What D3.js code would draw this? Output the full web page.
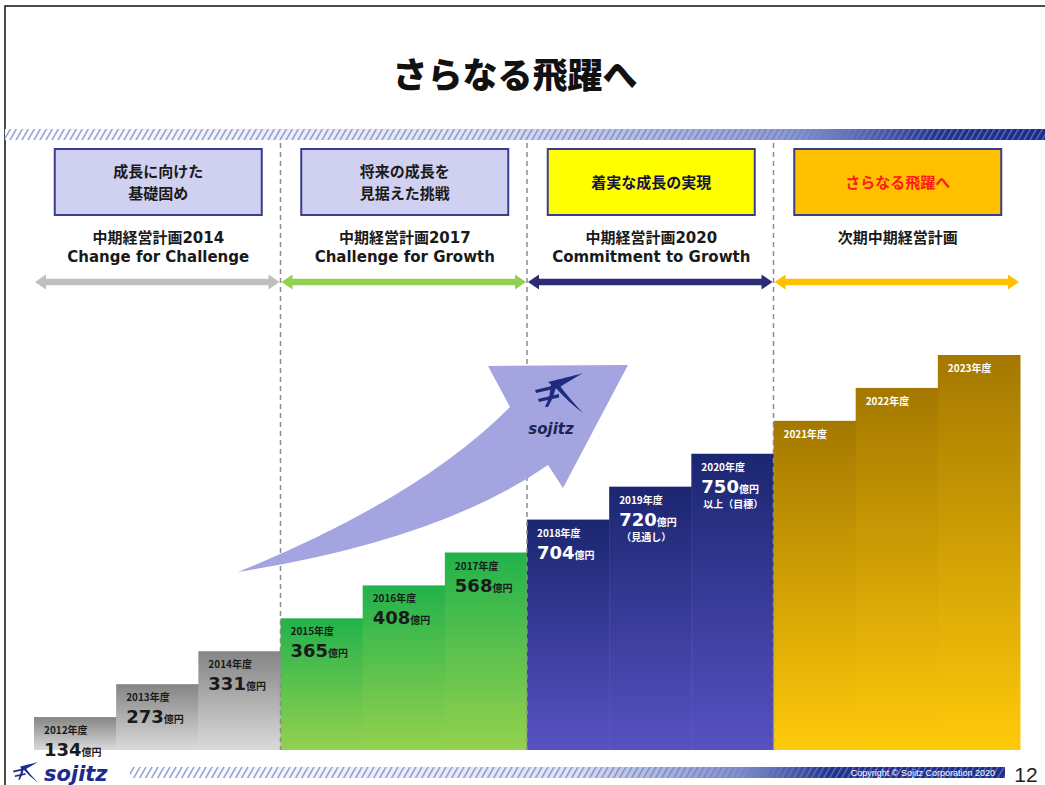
<!DOCTYPE html>
<html>
<head>
<meta charset="utf-8">
<script src="https://cdn.jsdelivr.net/npm/d3@7"></script>
<style>
  body { margin: 0; background: #fff; }
  svg { display: block; }
</style>
</head>
<body>
<div id="chart"></div>
<script>
// data
var years = ["2012", "2013", "2014", "2015", "2016", "2017", "2018", "2019", "2020", "2021", "2022", "2023"];
var values = [134, 273, 331, 365, 408, 568, 704, 720, 750, null, null, null];
var notes = ["", "", "", "", "", "", "", "（見通し）", "以上（目標）", "", "", ""];
var phaseStart = ["2012", "2015", "2018", "2021"];
var phaseTitles = [["成長に向けた", "基礎固め"], ["将来の成長を", "見据えた挑戦"], ["着実な成長の実現"], ["さらなる飛躍へ"]];
var planNames = [["中期経営計画2014", "Change for Challenge"], ["中期経営計画2017", "Challenge for Growth"],
                 ["中期経営計画2020", "Commitment to Growth"], ["次期中期経営計画"]];
var chartTitle = "さらなる飛躍へ";
var copyright = "Copyright © Sojitz Corporation 2020";
var pageNo = "12";

// styles per phase
var barTop = ["#858585", "#22b24c", "#1b2670", "#a47800"];
var barBottom = ["#dadada", "#94d14e", "#5751c2", "#ffca0a"];
var arrowColor = ["#bfbfbf", "#92d050", "#2b2b78", "#ffc000"];
var boxFill = ["#d0d0f0", "#d0d0f0", "#ffff00", "#ffc000"];
var boxText = ["#1a1a1a", "#1a1a1a", "#151540", "#ff1a1a"];
var labelColor = ["#1a1a1a", "#1a1a1a", "#ffffff", "#ffffff"];

var W = 1045, H = 785;
var cjk = "'Noto Sans CJK JP', sans-serif";
var latin = "'DejaVu Sans', 'Noto Sans CJK JP', sans-serif";

var svg = d3.select("#chart").append("svg")
    .attr("width", W)
    .attr("height", H);
var defs = svg.append("defs");

// scales
var x = d3.scaleBand()
    .domain(years)
    .range([34, 1020])
    .padding(0);
var y = d3.scaleLinear()
    .domain([0, years.length])
    .range([750, 355]);

function phaseOf(year) {
    var p = 0;
    phaseStart.forEach(function(s, i) { if (+year >= +s) p = i; });
    return p;
}
function phaseX0(p) { return x(phaseStart[p]); }
function phaseX1(p) { return p + 1 < phaseStart.length ? x(phaseStart[p + 1]) : x.range()[1]; }

// page frame
svg.append("rect")
    .attr("x", 5).attr("y", 6)
    .attr("width", W).attr("height", H)
    .attr("fill", "none")
    .attr("stroke", "#111")
    .attr("stroke-width", 1.5);

// title
svg.append("text")
    .attr("x", 515).attr("y", 88)
    .attr("text-anchor", "middle")
    .attr("font-family", cjk)
    .attr("font-weight", 900)
    .attr("font-size", 35)
    .attr("fill", "#111")
    .text(chartTitle);

// hatched stripes
defs.append("pattern")
    .attr("id", "hatch")
    .attr("patternUnits", "userSpaceOnUse")
    .attr("width", 6).attr("height", 12)
    .attr("patternTransform", "skewX(-30)")
    .append("rect")
    .attr("width", 1.6).attr("height", 12)
    .attr("fill", "#6f7cc0");

function stripeGradient(id, stops) {
    var g = defs.append("linearGradient").attr("id", id)
        .attr("x1", 0).attr("x2", 1).attr("y1", 0).attr("y2", 0);
    stops.forEach(function(s) {
        g.append("stop").attr("offset", s[0]).attr("stop-color", s[1]);
    });
}
stripeGradient("stripeTop", [[0, "#ffffff"], [0.45, "#dfe3f3"], [0.75, "#8e9bd3"], [0.9, "#22338f"], [1, "#1c2c8a"]]);
stripeGradient("stripeBottom", [[0, "#ffffff"], [0.5, "#dfe3f3"], [0.7, "#7f8dcc"], [0.8, "#22338f"], [1, "#1c2c8a"]]);

function stripe(x0, y0, w, h, grad) {
    svg.append("rect").attr("x", x0).attr("y", y0).attr("width", w).attr("height", h)
        .attr("fill", "url(#" + grad + ")");
    svg.append("rect").attr("x", x0).attr("y", y0).attr("width", w).attr("height", h)
        .attr("fill", "url(#hatch)").attr("opacity", 0.8);
}
stripe(5, 129, W - 5, 11, "stripeTop");
stripe(130, 767, 875, 11, "stripeBottom");

// bar gradients
phaseStart.forEach(function(s, p) {
    var g = defs.append("linearGradient").attr("id", "bar" + p)
        .attr("x1", 0).attr("x2", 0).attr("y1", 0).attr("y2", 1);
    g.append("stop").attr("offset", 0).attr("stop-color", barTop[p]);
    g.append("stop").attr("offset", 1).attr("stop-color", barBottom[p]);
});

// bars
svg.append("g").selectAll("rect")
    .data(years)
    .enter().append("rect")
    .attr("x", function(d) { return x(d); })
    .attr("y", function(d, i) { return y(i + 1); })
    .attr("width", x.bandwidth() + 0.5)
    .attr("height", function(d, i) { return y(0) - y(i + 1); })
    .attr("fill", function(d) { return "url(#bar" + phaseOf(d) + ")"; });

// dashed phase dividers
svg.append("g").selectAll("line")
    .data(phaseStart.slice(1))
    .enter().append("line")
    .attr("x1", function(d) { return x(d); })
    .attr("x2", function(d) { return x(d); })
    .attr("y1", 143).attr("y2", y(0))
    .attr("stroke", "#8c8c8c")
    .attr("stroke-width", 1.5)
    .attr("stroke-dasharray", "5,4");

// phase boxes
var boxW = 207, boxH = 66;
var box = svg.append("g").selectAll("g")
    .data(phaseTitles)
    .enter().append("g")
    .attr("transform", function(d, p) {
        return "translate(" + ((phaseX0(p) + phaseX1(p)) / 2 + 1) + ",182)";
    });
box.append("rect")
    .attr("x", -boxW / 2).attr("y", -boxH / 2)
    .attr("width", boxW).attr("height", boxH)
    .attr("fill", function(d, p) { return boxFill[p]; })
    .attr("stroke", "#3c3c8e")
    .attr("stroke-width", 2);
box.selectAll("text")
    .data(function(d, p) { return d.map(function(t, j) { return { t: t, j: j, n: d.length, p: p }; }); })
    .enter().append("text")
    .attr("text-anchor", "middle")
    .attr("y", function(d) { return (d.j - (d.n - 1) / 2) * 22 + 5.5; })
    .attr("font-family", cjk)
    .attr("font-weight", 700)
    .attr("font-size", 15)
    .attr("fill", function(d) { return boxText[d.p]; })
    .text(function(d) { return d.t; });

// plan names
var plan = svg.append("g").selectAll("g")
    .data(planNames)
    .enter().append("g")
    .attr("transform", function(d, p) {
        return "translate(" + ((phaseX0(p) + phaseX1(p)) / 2 + 1) + ",0)";
    });
plan.selectAll("text")
    .data(function(d) { return d; })
    .enter().append("text")
    .attr("text-anchor", "middle")
    .attr("y", function(d, j) { return 243 + j * 19; })
    .attr("font-family", latin)
    .attr("font-weight", 700)
    .attr("font-size", 15)
    .attr("fill", "#1a1a1a")
    .text(function(d) { return d; });

// double-headed arrows
function dblArrow(x0, x1, cy) {
    var hl = 11, hh = 7.5, sh = 3.2;
    return "M" + x0 + "," + cy +
        "L" + (x0 + hl) + "," + (cy - hh) + "L" + (x0 + hl) + "," + (cy - sh) +
        "L" + (x1 - hl) + "," + (cy - sh) + "L" + (x1 - hl) + "," + (cy - hh) +
        "L" + x1 + "," + cy +
        "L" + (x1 - hl) + "," + (cy + hh) + "L" + (x1 - hl) + "," + (cy + sh) +
        "L" + (x0 + hl) + "," + (cy + sh) + "L" + (x0 + hl) + "," + (cy + hh) + "Z";
}
svg.append("g").selectAll("path")
    .data(phaseStart)
    .enter().append("path")
    .attr("d", function(d, p) { return dblArrow(phaseX0(p) + 1, phaseX1(p) - 1, 282); })
    .attr("fill", function(d, p) { return arrowColor[p]; });

// big growth arrow
svg.append("path")
    .attr("d", "M238,572 Q420,498 510,407 L488,366 L628,365 L563,488 L548,465 Q440,540 238,572 Z")
    .attr("fill", "#a4a4e0");

// sojitz logo mark (48 x 40 units)
function logo(g, tx, ty, s, color) {
    var m = g.append("g").attr("transform", "translate(" + tx + "," + ty + ") scale(" + s + ")")
        .attr("fill", color);
    m.append("path").attr("d", "M48,0 C38,3 24,6 13,9 L22,16 C30,10 40,5 48,0 Z");
    m.append("path").attr("d", "M16,9 Q16,22 10,34 L13,34 Q20,22 21,12 Z");
    m.append("path").attr("d", "M20,14 Q32,28 48,40 Q34,25 25,13 Z");
    m.append("path").attr("d", "M0,17 L21,12 L21,15.5 L1,20 Z");
    m.append("path").attr("d", "M3,26 L24,21 L24,24.5 L4,29 Z");
}
logo(svg, 535, 373, 1, "#1d2c7c");
svg.append("text")
    .attr("x", 551).attr("y", 434)
    .attr("text-anchor", "middle")
    .attr("font-family", latin)
    .attr("font-weight", 700)
    .attr("font-style", "italic")
    .attr("font-size", 15)
    .attr("fill", "#1d2558")
    .text("sojitz");

// bar labels
var lab = svg.append("g").selectAll("g")
    .data(years)
    .enter().append("g")
    .attr("transform", function(d, i) { return "translate(" + (x(d) + 10) + "," + y(i + 1) + ")"; })
    .attr("fill", function(d) { return labelColor[phaseOf(d)]; })
    .attr("font-weight", 700);
lab.append("text")
    .attr("y", 17)
    .attr("font-family", cjk)
    .attr("font-size", 10)
    .text(function(d) { return d + "年度"; });
var val = lab.filter(function(d, i) { return values[i] != null; })
    .append("text")
    .attr("y", 39);
val.append("tspan")
    .attr("font-family", latin)
    .attr("font-size", 18)
    .text(function(d) { return values[years.indexOf(d)]; });
val.append("tspan")
    .attr("font-family", cjk)
    .attr("font-size", 10)
    .text("億円");
lab.filter(function(d, i) { return notes[i] !== ""; })
    .append("text")
    .attr("x", 2)
    .attr("y", 54)
    .attr("font-family", cjk)
    .attr("font-size", 10)
    .text(function(d) { return notes[years.indexOf(d)]; });

// footer
logo(svg, 13, 762, 0.52, "#1d2c8c");
svg.append("text")
    .attr("x", 44).attr("y", 781)
    .attr("font-family", latin)
    .attr("font-weight", 700)
    .attr("font-style", "italic")
    .attr("font-size", 21)
    .attr("fill", "#1d2c8c")
    .text("sojitz");
svg.append("text")
    .attr("x", 995).attr("y", 776)
    .attr("text-anchor", "end")
    .attr("font-family", "'Liberation Sans Narrow', 'Liberation Sans', sans-serif")
    .attr("font-size", 9)
    .attr("fill", "#fff")
    .text(copyright);
svg.append("text")
    .attr("x", 1026).attr("y", 782)
    .attr("text-anchor", "middle")
    .attr("font-family", "'Liberation Sans Narrow', 'Liberation Sans', sans-serif")
    .attr("font-size", 21)
    .attr("fill", "#222")
    .text(pageNo);
</script>
</body>
</html>
